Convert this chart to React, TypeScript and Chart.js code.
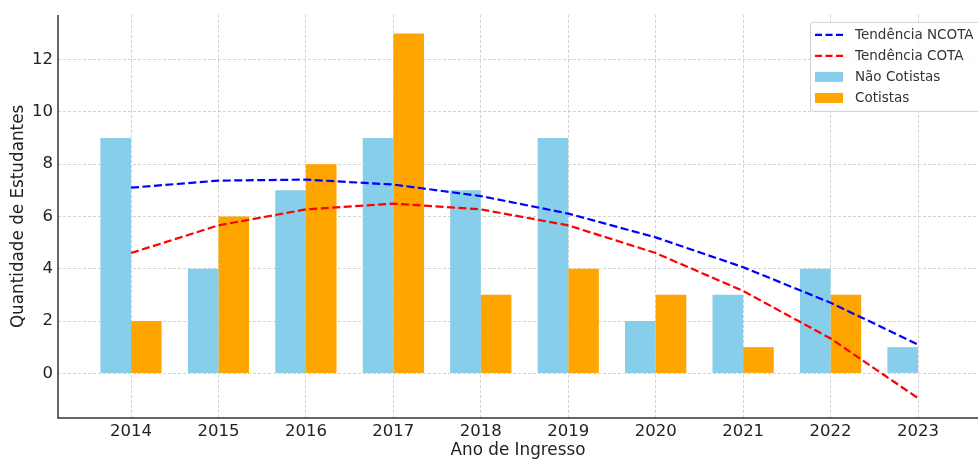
import React, { useEffect, useRef } from "react";
import { Chart, registerables } from "chart.js";

Chart.register(...registerables);

const years = [2014, 2015, 2016, 2017, 2018, 2019, 2020, 2021, 2022, 2023];
const naoCotistas = [9, 4, 7, 9, 7, 9, 2, 3, 4, 1];
const cotistas = [2, 6, 8, 13, 3, 4, 3, 1, 3, 0];
const tendenciaNcota = [7.1, 7.37, 7.41, 7.22, 6.78, 6.11, 5.2, 4.06, 2.7, 1.1];
const tendenciaCota = [4.6, 5.66, 6.27, 6.49, 6.27, 5.66, 4.6, 3.15, 1.33, -0.95];
const yTicks = [0, 2, 4, 6, 8, 10, 12];

const FONT = "'DejaVu Sans', sans-serif";

const legendPlugin = {
  id: "boxLegend",
  afterDraw(chart: any) {
    const ctx = chart.ctx;
    const area = chart.chartArea;
    const x0 = area.right - 168;
    const y0 = area.top + 7;
    const w = 180;
    const h = 89;
    ctx.save();
    ctx.fillStyle = "rgba(255,255,255,0.85)";
    ctx.strokeStyle = "#d0d0d0";
    ctx.lineWidth = 1;
    ctx.beginPath();
    ctx.roundRect(x0 + 0.5, y0 + 0.5, w, h, 3);
    ctx.fill();
    ctx.stroke();
    const order = [2, 3, 0, 1];
    ctx.font = "13.5px " + FONT;
    ctx.textBaseline = "middle";
    order.forEach((di, i) => {
      const ds = chart.data.datasets[di];
      const cy = y0 + 13 + i * 21;
      if (ds.type === "line") {
        ctx.strokeStyle = ds.borderColor;
        ctx.lineWidth = 2.2;
        ctx.setLineDash([7, 3.5]);
        ctx.beginPath();
        ctx.moveTo(x0 + 5, cy);
        ctx.lineTo(x0 + 34, cy);
        ctx.stroke();
        ctx.setLineDash([]);
      } else {
        ctx.fillStyle = ds.backgroundColor;
        ctx.fillRect(x0 + 5, cy - 5, 28, 10);
      }
      ctx.fillStyle = "#333";
      ctx.fillText(ds.label, x0 + 45, cy + 1);
    });
    ctx.restore();
  },
};

const axisLinePlugin = {
  id: "axisLines",
  afterDraw(chart: any) {
    const ctx = chart.ctx;
    const a = chart.chartArea;
    ctx.save();
    ctx.strokeStyle = "#333";
    ctx.lineWidth = 1.5;
    ctx.setLineDash([]);
    ctx.beginPath();
    ctx.moveTo(a.left, a.top);
    ctx.lineTo(a.left, a.bottom);
    ctx.lineTo(a.right, a.bottom);
    ctx.stroke();
    ctx.restore();
  },
};

export default function App() {
  const ref = useRef<HTMLCanvasElement>(null);
  useEffect(() => {
    document.body.style.margin = "0";
    const gridColor = "rgba(185,185,185,0.8)";
    const chart = new Chart(ref.current!, {
      type: "bar",
      data: {
        datasets: [
          {
            type: "bar",
            label: "Não Cotistas",
            data: years.map((y, i) => ({ x: y, y: naoCotistas[i] })),
            backgroundColor: "#87CEEB",
            categoryPercentage: 0.7,
            barPercentage: 1.0,
            order: 2,
          },
          {
            type: "bar",
            label: "Cotistas",
            data: years.map((y, i) => ({ x: y, y: cotistas[i] })),
            backgroundColor: "#FFA500",
            categoryPercentage: 0.7,
            barPercentage: 1.0,
            order: 2,
          },
          {
            type: "line",
            label: "Tendência NCOTA",
            data: years.map((y, i) => ({ x: y, y: tendenciaNcota[i] })),
            borderColor: "#0000FF",
            borderWidth: 2.2,
            borderDash: [8, 3.5],
            pointRadius: 0,
            fill: false,
            order: 1,
          },
          {
            type: "line",
            label: "Tendência COTA",
            data: years.map((y, i) => ({ x: y, y: tendenciaCota[i] })),
            borderColor: "#FF0000",
            borderWidth: 2.2,
            borderDash: [8, 3.5],
            pointRadius: 0,
            fill: false,
            order: 1,
          },
        ] as any,
      },
      options: {
        responsive: false,
        animation: false,
        layout: { padding: { top: 12, right: 0, left: 0, bottom: 0 } },
        plugins: {
          legend: { display: false },
          tooltip: { enabled: false },
          title: { display: false },
        },
        scales: {
          x: {
            type: "linear",
            min: 2013.165,
            max: 2023.686,
            offset: false,
            z: 1,
            afterBuildTicks: (s: any) => {
              s.ticks = years.map((v) => ({ value: v }));
            },
            afterFit: (s: any) => {
              s.height = 43;
            },
            ticks: {
              color: "#222",
              font: { family: FONT, size: 16.5 },
              padding: 4,
              autoSkip: false,
              maxRotation: 0,
              callback: (v: any) => String(v),
            },
            grid: {
              color: gridColor,
              lineWidth: 0.8,
              drawTicks: false,
              offset: false,
            },
            border: { display: false, dash: [3, 2] },
            title: {
              display: true,
              text: "Ano de Ingresso",
              color: "#222",
              font: { family: FONT, size: 16.8 },
              padding: { top: -3, bottom: 0 },
            },
          },
          y: {
            type: "linear",
            min: -1.71,
            max: 13.71,
            z: 1,
            afterBuildTicks: (s: any) => {
              s.ticks = yTicks.map((v) => ({ value: v }));
            },
            afterFit: (s: any) => {
              s.width = 58;
            },
            ticks: {
              color: "#222",
              font: { family: FONT, size: 16.5 },
              padding: 5,
            },
            grid: {
              color: gridColor,
              lineWidth: 0.8,
              drawTicks: false,
            },
            border: { display: false, dash: [3, 2] },
            title: {
              display: true,
              text: "Quantidade de Estudantes",
              color: "#222",
              font: { family: FONT, size: 16.8 },
              padding: { top: 9, bottom: 0 },
            },
          },
        },
      } as any,
      plugins: [legendPlugin, axisLinePlugin],
    });
    return () => chart.destroy();
  }, []);
  return (
    <div style={{ position: "fixed", left: 0, top: 0, width: 978, height: 461, overflow: "hidden", background: "#fff" }}>
      <canvas ref={ref} width={978} height={461} />
    </div>
  );
}
